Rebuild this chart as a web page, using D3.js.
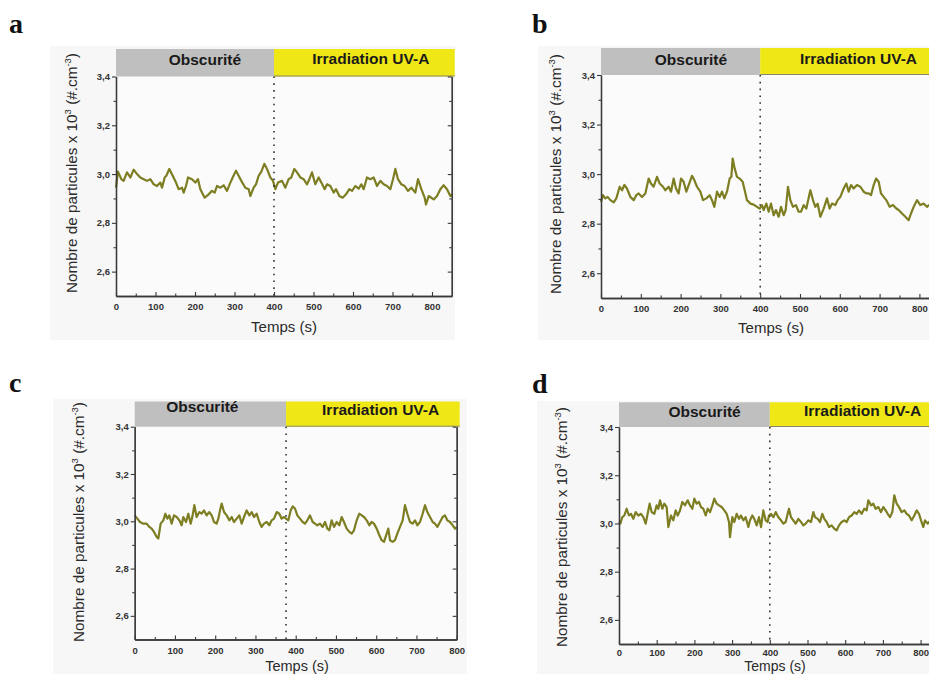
<!DOCTYPE html>
<html><head><meta charset="utf-8">
<script src="https://cdn.jsdelivr.net/npm/d3@7"></script>
<style>
html,body{margin:0;padding:0;background:#fff;}
svg{display:block;}
</style></head>
<body>
<svg id="chart" width="929" height="674"></svg>
<script>
// ---------- DATA: [time (s), particles x10^3 (#.cm-3)] ----------
const seriesA = [[0,2.944],[5,3.010],[13.5,2.979],[19.4,2.972],[27.8,3.007],[36.3,2.986],[44.7,3.018],[53.2,3.000],[61.6,2.986],[70,2.979],[78.5,2.972],[86.9,2.979],[95.4,2.958],[103.8,2.951],[112.2,2.965],[116.5,2.944],[123.2,2.986],[127.4,2.993],[135,3.021],[143.5,2.993],[151.9,2.965],[158.6,2.938],[167.1,2.944],[171.3,2.924],[177.2,2.951],[182.3,2.986],[192.4,2.979],[200.8,2.965],[207.6,2.979],[213.5,2.938],[224.5,2.903],[234.6,2.917],[243,2.931],[249.8,2.924],[255.7,2.951],[264.1,2.944],[272.6,2.954],[281,2.931],[289.5,2.965],[295.4,2.986],[303.8,3.014],[310.5,2.993],[317.3,2.972],[327.4,2.944],[335.9,2.938],[340.1,2.910],[348.5,2.944],[354.4,2.958],[361.2,2.993],[367.9,3.010],[375.5,3.042],[382.3,3.021],[390.7,2.986],[397.5,2.972],[403.4,2.938],[410.1,2.965],[420.3,2.972],[428.7,2.944],[437.1,2.979],[443.9,2.986],[451.5,3.021],[458.2,3.007],[466.7,2.986],[475.1,2.979],[483.5,2.958],[489.5,2.979],[496.2,3.007],[504.6,2.958],[513.1,2.986],[519.8,2.965],[528.3,2.938],[534.2,2.958],[542.6,2.951],[551.1,2.924],[557,2.938],[565.4,2.910],[573.8,2.903],[582.3,2.917],[590.7,2.938],[597.5,2.931],[605.9,2.951],[614.3,2.940],[621.1,2.958],[627,2.938],[635.4,2.986],[643.9,2.979],[652.3,2.986],[660.8,2.951],[669.2,2.972],[677.6,2.958],[686.1,2.951],[694.5,2.938],[701.3,2.979],[707.2,3.021],[713.9,2.979],[722.4,2.958],[730.8,2.951],[739.2,2.931],[747.7,2.944],[757.8,2.924],[764.6,2.979],[773,2.938],[781.4,2.903],[784.8,2.875],[791.6,2.910],[804.2,2.896],[812.7,2.910],[821.1,2.938],[829.5,2.954],[838,2.938],[846.4,2.910],[850,2.917]];

const seriesB = [[0,2.888],[5,2.915],[10.9,2.902],[16.8,2.908],[23.5,2.895],[31.8,2.886],[38.5,2.902],[46.9,2.949],[52.8,2.935],[58.6,2.956],[65.3,2.942],[73.7,2.908],[82.1,2.895],[88.8,2.915],[94.6,2.922],[103,2.908],[111.4,2.922],[119.8,2.982],[125.6,2.962],[132.3,2.949],[140.7,2.989],[147.4,2.962],[155.8,2.949],[161.6,2.935],[170,2.949],[175.9,2.929],[182.6,2.982],[188.4,2.942],[195.1,2.922],[201,2.982],[207.7,2.969],[214.4,2.929],[220.3,2.956],[228.6,2.993],[234.5,2.976],[241.2,2.949],[249.6,2.929],[256.3,2.895],[264.7,2.902],[273,2.915],[278.9,2.895],[284.8,2.868],[291.5,2.929],[298.2,2.908],[304,2.929],[309.9,2.902],[316.6,2.929],[323.3,2.982],[327.5,2.989],[330.8,3.063],[335.8,3.023],[341.7,2.989],[348.4,2.982],[355.9,2.969],[361,2.935],[366.8,2.895],[375.2,2.881],[383.6,2.877],[392,2.868],[398.7,2.861],[404.5,2.875],[408.7,2.855],[415.4,2.881],[421.3,2.848],[427.1,2.881],[433.8,2.834],[439.7,2.855],[446.4,2.828],[452.3,2.868],[459,2.834],[464,2.855],[469.8,2.949],[475.7,2.895],[482.4,2.868],[489.9,2.875],[496.6,2.848],[502.5,2.848],[509.2,2.875],[515.9,2.861],[526,2.935],[532.7,2.895],[538.5,2.868],[544.4,2.881],[551.1,2.828],[559.5,2.861],[567.8,2.902],[574.5,2.861],[580.4,2.881],[588.8,2.875],[594.6,2.895],[601.3,2.908],[609.7,2.942],[616.4,2.962],[622.3,2.929],[628.1,2.956],[634.8,2.942],[643.2,2.956],[651.6,2.949],[660,2.929],[666.7,2.922],[672.5,2.922],[678.4,2.915],[685.1,2.956],[691,2.982],[697.7,2.969],[703.5,2.922],[710.2,2.908],[716.9,2.895],[725.3,2.868],[733.7,2.875],[742,2.861],[747.9,2.855],[756.3,2.841],[764.7,2.828],[773,2.814],[778.9,2.841],[785.6,2.868],[794,2.895],[802.3,2.875],[810.7,2.881],[819.1,2.868],[824.1,2.875],[835,2.865],[850,2.870]];

const seriesC = [[0,3.025],[6.5,3.011],[13.2,2.997],[21.4,2.990],[29.7,2.990],[36.4,2.976],[42.2,2.969],[47.9,2.955],[54.6,2.934],[58.7,2.927],[64.5,2.990],[71.1,3.004],[76.1,3.032],[81.1,3.011],[86,3.025],[91.8,2.990],[97.6,3.025],[104.3,3.018],[110.9,3.004],[116.7,2.983],[120.8,3.018],[127.5,2.997],[133.2,3.032],[139.1,2.990],[144,3.025],[148.2,3.068],[153.9,3.018],[160.6,3.039],[166.4,3.032],[172.2,3.046],[178.8,3.025],[185.4,3.039],[191.2,3.025],[197,2.997],[203.6,2.990],[207.8,3.011],[211.9,3.046],[216.1,3.075],[221.9,3.039],[228.5,3.025],[235.1,3.004],[240.9,3.018],[246.7,2.997],[253.3,3.011],[259.9,3.025],[265.8,2.990],[271.5,3.018],[278.2,3.046],[284.8,3.025],[290.6,3.039],[296.4,3.018],[303,3.032],[309.6,2.997],[315.4,2.976],[321.2,2.990],[327.9,2.997],[334.5,2.983],[340.3,3.004],[346.1,3.011],[352.7,3.039],[359.3,3.032],[365.1,3.011],[370.9,3.018],[375.9,3.011],[381.7,3.004],[387.5,3.046],[392.4,3.063],[398.2,3.054],[404,3.025],[410.7,3.011],[417.3,2.997],[423.1,2.990],[428.9,3.004],[435.5,3.025],[442.2,2.997],[447.9,2.990],[453.7,2.983],[460.4,2.990],[467,2.976],[472.8,2.997],[478.6,2.969],[483.6,2.962],[489.4,3.004],[495.2,2.976],[501.8,2.997],[508.4,2.983],[514.2,3.018],[520,2.997],[526.6,2.969],[533.3,2.955],[539,2.948],[544.8,2.962],[551.5,3.004],[558.1,3.032],[563.9,3.025],[569.7,3.018],[576.3,3.004],[582.9,2.983],[588.7,2.997],[594.5,2.990],[601.2,2.969],[607.8,2.941],[613.6,2.920],[619.4,2.913],[626,2.948],[630.1,2.969],[634.3,2.920],[640.9,2.913],[646.7,2.920],[652.5,2.948],[659.1,2.976],[665.8,3.004],[671.5,3.068],[677.4,3.032],[683.9,2.997],[690.6,2.990],[696.4,3.004],[702.2,2.983],[708.8,2.997],[715.4,3.032],[721.2,3.068],[727,3.039],[733.6,3.018],[740.3,2.997],[746.1,2.990],[751.9,2.976],[758.5,2.997],[765.1,3.018],[770.9,3.025],[776.7,3.004],[783.3,2.997],[790,2.983],[795.8,2.969],[800,2.976]];

const seriesD = [[0,3.006],[3.5,2.999],[8.8,3.026],[14.1,3.033],[20.3,3.061],[26.5,3.033],[31.8,3.040],[38,3.019],[44.2,3.047],[51.3,3.033],[58.4,3.040],[64.5,3.026],[70.7,2.999],[76,3.040],[81.3,3.082],[86.6,3.047],[93.7,3.040],[99.9,3.075],[104.3,3.061],[108.8,3.096],[114.9,3.061],[120.2,3.082],[126.4,3.068],[130.9,2.985],[137.9,3.033],[144.1,3.013],[150.3,3.054],[155.6,3.033],[161.8,3.054],[168,3.089],[175.1,3.075],[182.1,3.096],[188.3,3.075],[194.5,3.061],[199.8,3.103],[206,3.082],[212.2,3.089],[217.5,3.068],[223.7,3.061],[229.9,3.033],[235.2,3.061],[241.4,3.047],[247.6,3.075],[252.9,3.103],[259.1,3.082],[265.3,3.075],[272.3,3.068],[279.4,3.054],[285.6,3.040],[291.8,3.006],[294.4,2.943],[300.6,3.026],[305.9,3.006],[312.1,3.040],[318.3,3.019],[323.6,3.033],[329.8,3.013],[336,3.026],[343.1,2.985],[347.5,3.013],[353.7,3.033],[359,3.019],[365.2,2.992],[371.4,3.026],[376.7,2.985],[382.8,3.054],[389,3.013],[394.3,3.006],[397.9,3.033],[403.2,3.040],[409.4,3.026],[415.6,3.047],[422.6,3.026],[429.7,3.013],[435.9,2.999],[442.1,3.006],[447.4,3.040],[450.9,3.061],[456.2,3.026],[462.4,3.013],[468.6,2.999],[475.7,3.019],[482.8,3.006],[488.9,2.992],[495.1,2.999],[502.2,3.013],[509.3,3.006],[515.5,3.047],[519.9,3.026],[527,3.019],[533.2,3.006],[539.3,3.040],[544.6,3.019],[550.8,3.006],[557,2.985],[564.1,2.992],[571.2,2.978],[577.4,2.971],[583.6,2.992],[590.6,3.006],[597.7,3.013],[603.9,3.006],[610.1,3.026],[617.2,3.033],[624.2,3.047],[630.4,3.040],[636.6,3.054],[643.7,3.040],[650.7,3.061],[656.9,3.054],[661.4,3.096],[668.4,3.075],[674.6,3.082],[680.8,3.061],[687.9,3.068],[695,3.047],[701.1,3.068],[707.3,3.054],[712.6,3.040],[718.8,3.026],[725,3.047],[730.3,3.117],[736.5,3.082],[742.7,3.068],[749.8,3.047],[756.9,3.054],[763,3.040],[769.2,3.033],[776.3,3.013],[783.4,3.033],[789.6,3.054],[795.8,3.040],[801.1,3.013],[807.3,2.985],[811.7,3.013],[818.8,2.999],[822.3,3.006],[835,2.990],[850,3.000]];

const panelLetters = ["a","b","c","d"];
const xMajorTicks = [0,100,200,300,400,500,600,700,800];
const xMinorTicks = [50,150,250,350,450,550,650,750,850];
const yMajorTicks = [2.6,2.8,3.0,3.2,3.4];
const yMinorTicks = [2.7,2.9,3.1,3.3];
const yDomain = [2.5,3.4];
const phaseLabels = ["Obscurité","Irradiation UV-A"];
const xTitle = "Temps (s)";

// ---------- LAYOUT ----------
const panels = [
  {series:seriesA, xMax:850, split:400, left:116, per100:39.5, bandTop:49, top:76.5, bottom:296,
   bg:[50,46,405,294], letter:[9,33], yTitle:[77,173], xTitlePos:[284,332], xTitleSize:15, xLabPad:7,
   darkT:225, darkY:65, uvT:645, uvY:63.5},
  {series:seriesB, xMax:850, split:400, left:601, per100:39.8, bandTop:48, top:75, bottom:298,
   bg:[538,46,391,294], letter:[532,33], yTitle:[561,174], xTitlePos:[771,333], xTitleSize:15, xLabPad:7,
   darkT:226, darkY:65, uvT:647, uvY:63.5},
  {series:seriesC, xMax:800, split:376, left:134.7, per100:40.25, bandTop:401.5, top:426.7, bottom:639.5,
   bg:[53,399,414,275], letter:[9,392], yTitle:[84,522], xTitlePos:[297,670.5], xTitleSize:14.5, xLabPad:7.5,
   darkT:168, darkY:411.5, uvT:611, uvY:415},
  {series:seriesD, xMax:850, split:400, left:619, per100:37.7, bandTop:402.3, top:427, bottom:644,
   bg:[537,401,392,273], letter:[532,393], yTitle:[567,527], xTitlePos:[775,670.5], xTitleSize:14, xLabPad:5.5,
   darkT:227, darkY:417, uvT:646, uvY:415.5}
];

const svg = d3.select("#chart");
const SANS = "'Liberation Sans', Arial, Helvetica, sans-serif";
const fmt = v => d3.format(".1f")(v).replace(".", ",");
const AX = "#3a3a3a";

panels.forEach((p, i) => {
  const g = svg.append("g");
  g.append("rect").attr("x",p.bg[0]).attr("y",p.bg[1]).attr("width",p.bg[2]).attr("height",p.bg[3])
    .attr("fill","#f7f7f7");

  const x = d3.scaleLinear().domain([0,p.xMax]).range([p.left, p.left + p.per100*p.xMax/100]);
  const y = d3.scaleLinear().domain(yDomain).range([p.bottom, p.top]);
  const xR = x(p.xMax);

  g.append("rect").attr("x",x(0)).attr("y",p.top).attr("width",xR-x(0)).attr("height",p.bottom-p.top)
    .attr("fill","#fbfbfb");

  // phase bands
  g.append("rect").attr("x",x(0)).attr("y",p.bandTop).attr("width",x(p.split)-x(0)).attr("height",p.top-p.bandTop)
    .attr("fill","#bfbfbf");
  g.append("rect").attr("x",x(p.split)).attr("y",p.bandTop).attr("width",xR+3-x(p.split)).attr("height",p.top-p.bandTop)
    .attr("fill","#f0e816");
  g.append("line").attr("x1",x(p.split)).attr("x2",xR+3).attr("y1",p.top-0.5).attr("y2",p.top-0.5)
    .attr("stroke","#8a8a6a").attr("stroke-width",1);

  g.append("text").attr("x",x(p.darkT)).attr("y",p.darkY).attr("text-anchor","middle")
    .attr("font-family",SANS).attr("font-weight","bold").attr("font-size",15.5).attr("fill","#1a1a1a")
    .text(phaseLabels[0]);
  g.append("text").attr("x",x(p.uvT)).attr("y",p.uvY).attr("text-anchor","middle")
    .attr("font-family",SANS).attr("font-weight","bold").attr("font-size",15.5).attr("fill","#1a1a1a")
    .text(phaseLabels[1]);

  // data line
  const line = d3.line().x(d => x(d[0])).y(d => y(d[1]));
  g.append("path").datum(p.series).attr("d",line).attr("fill","none")
    .attr("stroke","#7d7d22").attr("stroke-width",2.2).attr("stroke-linejoin","round");

  // dotted separator
  g.append("line").attr("x1",x(p.split)).attr("x2",x(p.split)).attr("y1",p.top).attr("y2",p.bottom)
    .attr("stroke","#333").attr("stroke-width",1.6).attr("stroke-dasharray","1.6,5.2");

  // axes
  const styleAxis = sel => {
    sel.selectAll("path.domain").attr("stroke",AX).attr("stroke-width",1.3);
    sel.selectAll(".tick line").attr("stroke",AX).attr("stroke-width",1.1);
    sel.selectAll(".tick text").attr("font-family",SANS).attr("font-weight","bold")
      .attr("font-size",9.5).attr("fill","#333");
  };
  const xMajor = g.append("g").attr("transform",`translate(0,${p.bottom})`)
    .call(d3.axisBottom(x).tickValues(xMajorTicks.filter(t=>t<=p.xMax)).tickSize(-4).tickSizeOuter(0)
      .tickPadding(p.xLabPad).tickFormat(d3.format("d")));
  styleAxis(xMajor);
  const xMinor = g.append("g").attr("transform",`translate(0,${p.bottom})`)
    .call(d3.axisBottom(x).tickValues(xMinorTicks.filter(t=>t<p.xMax)).tickSize(-2.5).tickSizeOuter(0).tickFormat(""));
  styleAxis(xMinor);

  const yMajor = g.append("g").attr("transform",`translate(${x(0)},0)`)
    .call(d3.axisLeft(y).tickValues(yMajorTicks).tickSize(4).tickSizeOuter(0).tickPadding(2).tickFormat(fmt));
  styleAxis(yMajor);
  const yMinor = g.append("g").attr("transform",`translate(${x(0)},0)`)
    .call(d3.axisLeft(y).tickValues(yMinorTicks).tickSize(2.5).tickSizeOuter(0).tickFormat(""));
  styleAxis(yMinor);

  const yR = g.append("g").attr("transform",`translate(${xR},0)`)
    .call(d3.axisRight(y).tickValues(yMajorTicks).tickSize(-4).tickSizeOuter(0).tickFormat(""));
  styleAxis(yR);
  const yR2 = g.append("g").attr("transform",`translate(${xR},0)`)
    .call(d3.axisRight(y).tickValues(yMinorTicks).tickSize(-2.5).tickSizeOuter(0).tickFormat(""));
  styleAxis(yR2);

  // axis titles
  g.append("text").attr("x",p.xTitlePos[0]).attr("y",p.xTitlePos[1]).attr("text-anchor","middle")
    .attr("font-family",SANS).attr("font-size",p.xTitleSize).attr("fill","#2a2a2a").text(xTitle);

  const yt = g.append("text").attr("transform",`translate(${p.yTitle[0]},${p.yTitle[1]}) rotate(-90)`)
    .attr("text-anchor","middle").attr("font-family",SANS).attr("font-size",15.3).attr("fill","#2a2a2a");
  yt.append("tspan").text("Nombre de particules x 10");
  yt.append("tspan").attr("dy",-6.5).attr("font-size",9.5).text("3");
  yt.append("tspan").attr("dy",6.5).text(" (#.cm");
  yt.append("tspan").attr("dy",-6.5).attr("font-size",9.5).text("-3");
  yt.append("tspan").attr("dy",6.5).text(")");

  // panel letter
  svg.append("text").attr("x",p.letter[0]).attr("y",p.letter[1])
    .attr("font-family","'Liberation Serif','Times New Roman',serif").attr("font-weight","bold")
    .attr("font-size",28).attr("fill","#111").text(panelLetters[i]);
});
</script>
</body></html>
